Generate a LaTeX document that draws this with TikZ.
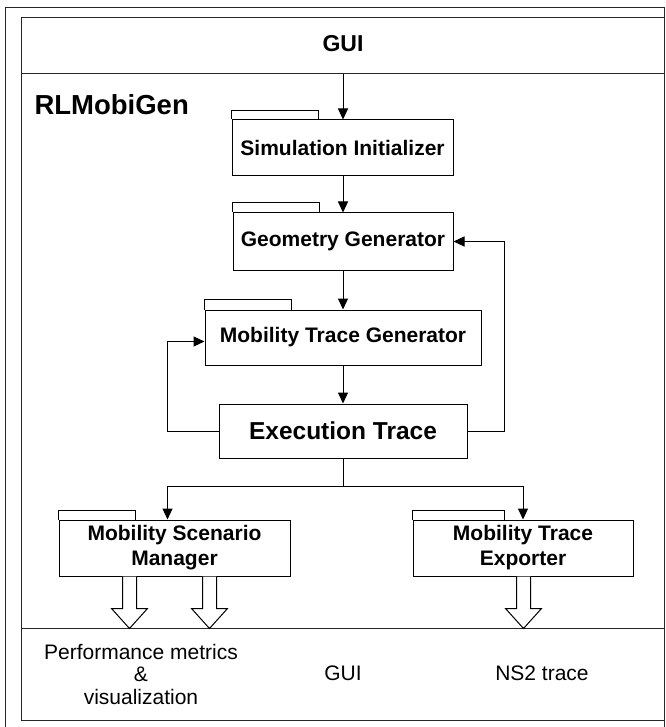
\documentclass[tikz,border=0pt]{standalone}
\usepackage{fontspec}
\setmainfont{Liberation Sans}
\usetikzlibrary{arrows.meta}
\begin{document}
\begin{tikzpicture}[x=1pt,y=-1pt,
  frame/.style={line width=1pt, draw=black!85},
  comp/.style={draw, line width=1pt, fill=white, inner sep=0pt, font=\bfseries\fontsize{21}{25}\selectfont, align=center},
  tabline/.style={draw, line width=1pt},
  conn/.style={line width=1pt, -{Triangle[length=11pt,width=10pt]}},
  plainline/.style={line width=1pt},
  hollow/.style={draw, line width=1pt, fill=white},
  outtext/.style={font=\fontsize{21}{22.5}\selectfont, align=center},
  harrow/.pic={\draw[hollow] (-7,0) -- (-7,32) -- (-18,32) -- (0,52) -- (18,32) -- (7,32) -- (7,0);}
]
\useasboundingbox (0,0) rectangle (665,727);

% frames
\draw[frame] (5,727) -- (5,8) -- (664,8) -- (664,727);
\draw[frame] (21,18) rectangle (664,720);
\draw[frame] (21,74) -- (664,74);
\draw[frame] (21,628) -- (664,628);

\node[anchor=base, font=\bfseries\fontsize{23}{26}\selectfont] (gui) at (343,52) {GUI};
\node[anchor=base west, font=\bfseries\fontsize{27.5}{30}\selectfont] (title) at (31,115) {RLMobiGen};

% components
\node[comp, minimum width=221pt, minimum height=56pt] (SI) at (342.5,148) {Simulation Initializer};
\node[comp, minimum width=220pt, minimum height=57pt] (GG) at (343,241.5) {Geometry Generator};
\node[comp, minimum width=276pt, minimum height=55pt] (MTG) at (343,337.5) {Mobility Trace Generator};
\node[comp, minimum width=248pt, minimum height=54pt, font=\bfseries\fontsize{24.5}{28}\selectfont] (ET) at (343,431) {Execution Trace};
\node[comp, minimum width=231pt, minimum height=56pt] (MSM) at (174.5,548) {Mobility Scenario\\Manager};
\node[comp, minimum width=220pt, minimum height=56pt] (MTE) at (523,548) {Mobility Trace\\Exporter};

% tabs
\draw[tabline] (SI.north west) -- ++(0,-9) -- ++(87,0) -- ++(0,9);
\draw[tabline] (GG.north west) -- ++(0,-10) -- ++(87,0) -- ++(0,10);
\draw[tabline] (MTG.north west) -- ++(0,-10) -- ++(87,0) -- ++(0,10);
\draw[tabline] (MSM.north west) -- ++(0,-9) -- ++(77,0) -- ++(0,9);
\draw[tabline] (MTE.north west) -- ++(0,-9) -- ++(92,0) -- ++(0,9);

% connectors
\coordinate (guisep) at (343,74);
\coordinate (rloop) at (504,0);
\coordinate (lloop) at (167,0);
\coordinate (split) at (343,486);
\draw[conn] (guisep) -- (SI.north -| guisep);
\draw[conn] (SI.south -| guisep) -- (GG.north -| guisep);
\draw[conn] (GG.south -| guisep) -- (MTG.north -| guisep);
\draw[conn] (MTG.south -| guisep) -- (ET.north -| guisep);
\draw[conn] (ET.east) -| (rloop |- GG.east) -- (GG.east);
\draw[conn] (ET.west) -| ([yshift=-4pt]lloop |- MTG.west) -- ([yshift=-4pt]MTG.west);
\draw[plainline] (ET.south) -- (split);
\draw[conn] (split) -| ([xshift=-7pt]MSM.north);
\draw[conn] (split) -| (MTE.north);

% hollow output arrows
\pic at ([xshift=71pt]MSM.south west) {harrow};
\pic at ([xshift=151pt]MSM.south west) {harrow};
\pic at ([xshift=0.5pt]MTE.south) {harrow};

% outputs
\node[outtext] (perf) at (141,674) {Performance metrics\\\&\\visualization};
\node[outtext, anchor=base] (gui2) at (343,680) {GUI};
\node[outtext, anchor=base] (ns2) at (542,680) {NS2 trace};
\end{tikzpicture}
\end{document}
